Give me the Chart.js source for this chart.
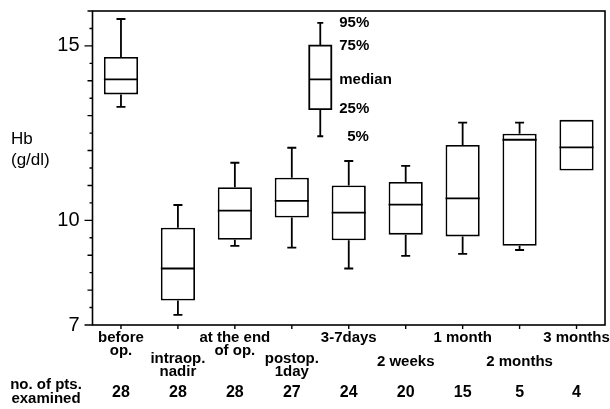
<!DOCTYPE html>
<html>
<head>
<meta charset="utf-8">
<script src="https://cdn.jsdelivr.net/npm/chart.js@4.4.1/dist/chart.umd.min.js"></script>
<style>
  html, body { margin: 0; padding: 0; background: #fff; }
  #wrap { width: 610px; height: 409px; position: relative; }
</style>
</head>
<body>
<div id="wrap"><canvas id="hbChart" width="610" height="409"></canvas></div>
<script>
// ---- data ----
const categories = [
    ['before', 'op.'],
    ['intraop.', 'nadir'],
    ['at the end', 'of op.'],
    ['postop.', '1day'],
    ['3-7days'],
    ['2 weeks'],
    ['1 month'],
    ['2 months'],
    ['3 months']
];
const p5  = [13.25, 7.29, 9.27, 9.22, 8.62, 8.98, 9.04, 9.15, null];
const q1  = [13.61, 7.70, 9.44, 10.08, 9.43, 9.59, 9.54, 9.27, 11.43];
const med = [14.04, 8.62, 10.28, 10.56, 10.22, 10.45, 10.63, 12.31, 12.09];
const q3  = [14.68, 9.79, 10.95, 11.22, 11.00, 11.10, 12.16, 12.48, 12.88];
const p95 = [15.77, 10.44, 11.65, 12.08, 11.70, 11.56, 12.80, 12.80, null];
const nPatients = [28, 28, 28, 27, 24, 20, 15, 5, 4];

// key box (explains the percentiles), sits between 4th and 5th group
const keyPos = 3.5;
const keyStats = [12.41, 13.19, 14.04, 15.01, 15.66];
const keyLabels = ['5%', '25%', 'median', '75%', '95%'];

const yLabelTicks = [7, 10, 15];

const FONT = '"Liberation Sans", Arial, sans-serif';

// ---- custom drawing: whiskers, medians, frame, axis ticks, texts ----
const boxPlotExtras = {
    id: 'boxPlotExtras',
    afterDatasetsDraw(chart) {
        const { ctx, chartArea: a, scales: { x, y } } = chart;
        const meta = chart.getDatasetMeta(0);
        ctx.save();
        ctx.strokeStyle = '#000';
        ctx.lineWidth = 1.8;

        // whiskers + medians
        meta.data.forEach((bar, i) => {
            const cx = x.getPixelForValue(i);
            const half = bar.width / 2;
            ctx.beginPath();
            ctx.moveTo(cx - half, y.getPixelForValue(med[i]));
            ctx.lineTo(cx + half, y.getPixelForValue(med[i]));
            if (p95[i] != null) {
                ctx.moveTo(cx, y.getPixelForValue(q3[i]));
                ctx.lineTo(cx, y.getPixelForValue(p95[i]));
                ctx.moveTo(cx - 4.5, y.getPixelForValue(p95[i]));
                ctx.lineTo(cx + 4.5, y.getPixelForValue(p95[i]));
            }
            if (p5[i] != null) {
                ctx.moveTo(cx, y.getPixelForValue(q1[i]));
                ctx.lineTo(cx, y.getPixelForValue(p5[i]));
                ctx.moveTo(cx - 4.5, y.getPixelForValue(p5[i]));
                ctx.lineTo(cx + 4.5, y.getPixelForValue(p5[i]));
            }
            ctx.stroke();
        });

        // key box
        const kx = x.getPixelForValue(keyPos);
        const kw = 11;
        const [k5, k25, k50, k75, k95] = keyStats.map(v => y.getPixelForValue(v));
        ctx.beginPath();
        ctx.rect(kx - kw, k75, kw * 2, k25 - k75);
        ctx.moveTo(kx - kw, k50); ctx.lineTo(kx + kw, k50);
        ctx.moveTo(kx, k75); ctx.lineTo(kx, k95);
        ctx.moveTo(kx - 3, k95); ctx.lineTo(kx + 3, k95);
        ctx.moveTo(kx, k25); ctx.lineTo(kx, k5);
        ctx.moveTo(kx - 3, k5); ctx.lineTo(kx + 3, k5);
        ctx.stroke();

        ctx.fillStyle = '#000';
        ctx.font = `bold 15px ${FONT}`;
        ctx.textAlign = 'left';
        ctx.textBaseline = 'middle';
        keyLabels.forEach((t, j) => {
            const ty = y.getPixelForValue(keyStats[j]);
            const dx = t === '5%' ? 27 : 19;
            ctx.fillText(t, kx + dx, t === '5%' ? ty + 1 : ty);
        });

        // frame
        ctx.lineWidth = 1.6;
        ctx.strokeRect(a.left, a.top, a.right - a.left, a.bottom - a.top);

        // y ticks: every 0.5, longer at integers, longest at labelled values
        ctx.lineWidth = 1.4;
        ctx.beginPath();
        y.ticks.forEach(t => {
            const ty = y.getPixelForValue(t.value);
            let len = 3;
            if (Number.isInteger(t.value)) len = 5;
            if (yLabelTicks.includes(t.value)) len = 8;
            ctx.moveTo(a.left - len, ty);
            ctx.lineTo(a.left, ty);
        });
        // x ticks
        categories.forEach((c, i) => {
            const tx = x.getPixelForValue(i);
            ctx.moveTo(tx, a.bottom);
            ctx.lineTo(tx, a.bottom + 4);
        });
        ctx.stroke();

        // category labels, staggered on two rows
        ctx.font = `bold 15px ${FONT}`;
        ctx.textAlign = 'center';
        ctx.textBaseline = 'middle';
        categories.forEach((lines, i) => {
            const tx = x.getPixelForValue(i);
            let ty;
            if (i % 2 === 0) ty = 338;
            else ty = lines.length > 1 ? 359 : 362;
            lines.forEach((ln, k) => ctx.fillText(ln, tx, ty + k * 13));
        });

        // patient counts
        ctx.font = `bold 16px ${FONT}`;
        nPatients.forEach((n, i) => {
            ctx.fillText(String(n), x.getPixelForValue(i), 393);
        });
        ctx.font = `bold 15px ${FONT}`;
        ctx.fillText('no. of pts.', 46, 385);
        ctx.fillText('examined', 46, 399);

        // y title
        ctx.font = `17px ${FONT}`;
        ctx.textAlign = 'left';
        ctx.fillText('Hb', 11, 139);
        ctx.fillText('(g/dl)', 11, 160);
        ctx.restore();
    }
};

const ctx = document.getElementById('hbChart').getContext('2d');
new Chart(ctx, {
    type: 'bar',
    data: {
        labels: categories.map((c, i) => i),
        datasets: [{
            data: q1.map((lo, i) => [lo, q3[i]]),
            backgroundColor: '#fff',
            borderColor: '#000',
            borderWidth: 1.8,
            borderSkipped: false,
            categoryPercentage: 0.6,
            barPercentage: 1.0
        }]
    },
    options: {
        responsive: false,
        animation: false,
        events: [],
        layout: { padding: { top: 11, right: 5, bottom: 84, left: 0 } },
        plugins: { legend: { display: false }, tooltip: { enabled: false } },
        scales: {
            x: { display: false },
            y: {
                min: 7,
                max: 16,
                afterFit: s => {
                    s.width = 92.5;
                    s.paddingTop = 0;
                    s.paddingBottom = 0;
                },
                grid: { display: false },
                border: { display: false },
                ticks: {
                    stepSize: 0.5,
                    autoSkip: false,
                    padding: 5,
                    color: '#000',
                    font: { family: FONT, size: 20 },
                    callback: v => yLabelTicks.includes(v) ? String(v) : ''
                }
            }
        }
    },
    plugins: [boxPlotExtras]
});
</script>
</body>
</html>
